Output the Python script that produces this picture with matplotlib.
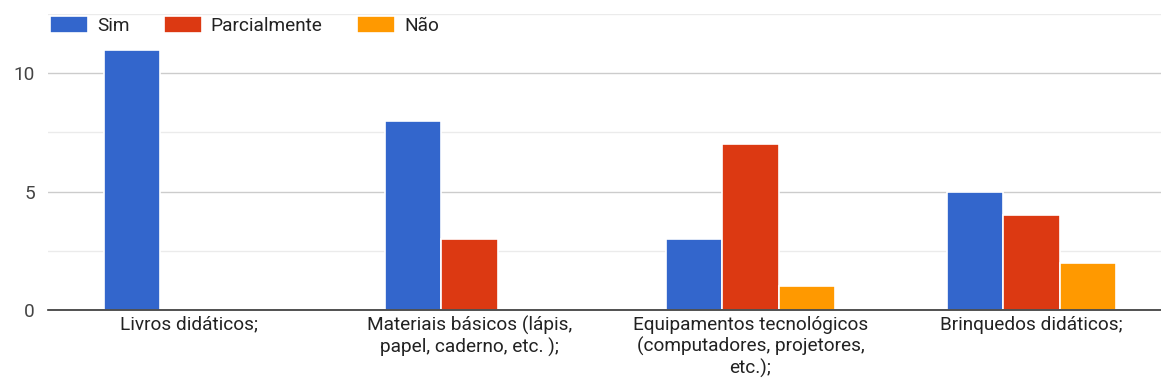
import matplotlib
matplotlib.use("Agg")
import matplotlib.pyplot as plt
import numpy as np

categories = ["Livros didáticos;",
              "Materiais básicos (lápis,\npapel, caderno, etc. );",
              "Equipamentos tecnológicos\n(computadores, projetores,\netc.);",
              "Brinquedos didáticos;"]
series_names = ["Sim", "Parcialmente", "Não"]
sim = [11, 8, 3, 5]
parcialmente = [0, 3, 7, 4]
nao = [0, 0, 1, 2]
colors = ["#3366CC", "#DC3912", "#FF9900"]

plt.rcParams['font.family'] = ['Roboto', 'DejaVu Sans']

W, H = 1161, 387
fig = plt.figure(figsize=(W/100, H/100), dpi=100)
ax = fig.add_axes([48/W, (H-310)/H, 1124/W, 296/H])

x = np.arange(len(categories))
bw = 0.2
handles = []
for i, (vals, c, name) in enumerate(zip([sim, parcialmente, nao], colors, series_names)):
    b = ax.bar(x + (i-1)*bw, vals, width=bw, color=c, edgecolor="white", linewidth=1.2,
               label=name, zorder=3)
    handles.append(b)

fs = 13.7
ax.set_xlim(-0.5, 3.5)
ax.set_ylim(0, 12.5)
ax.set_yticks([0, 5, 10])
ax.set_yticks([2.5, 7.5, 12.5], minor=True)
ax.grid(axis='y', which='major', color='#cccccc', linewidth=1, zorder=0)
ax.grid(axis='y', which='minor', color='#ebebeb', linewidth=1, zorder=0)
ax.tick_params(axis='y', which='both', length=0, labelsize=fs, labelcolor='#444444', pad=9.4)
ax.tick_params(axis='x', length=0, labelsize=fs, labelcolor='#222222', pad=4)
ax.set_xticks(x)
ax.set_xticklabels(categories, linespacing=1.2)
for s in ['top', 'right', 'left']:
    ax.spines[s].set_visible(False)
ax.spines['bottom'].set_color('#333333')
ax.spines['bottom'].set_linewidth(1.2)
ax.spines['bottom'].set_zorder(4)

fig.legend(handles=handles, labels=series_names, loc='upper left',
           bbox_to_anchor=(33/W, 1 + 1/H), ncol=3, frameon=False, fontsize=fs,
           handlelength=2.0, handleheight=0.95, handletextpad=0.47, columnspacing=1.8,
           labelcolor='#222222')

fig.savefig("out.png", dpi=100)
